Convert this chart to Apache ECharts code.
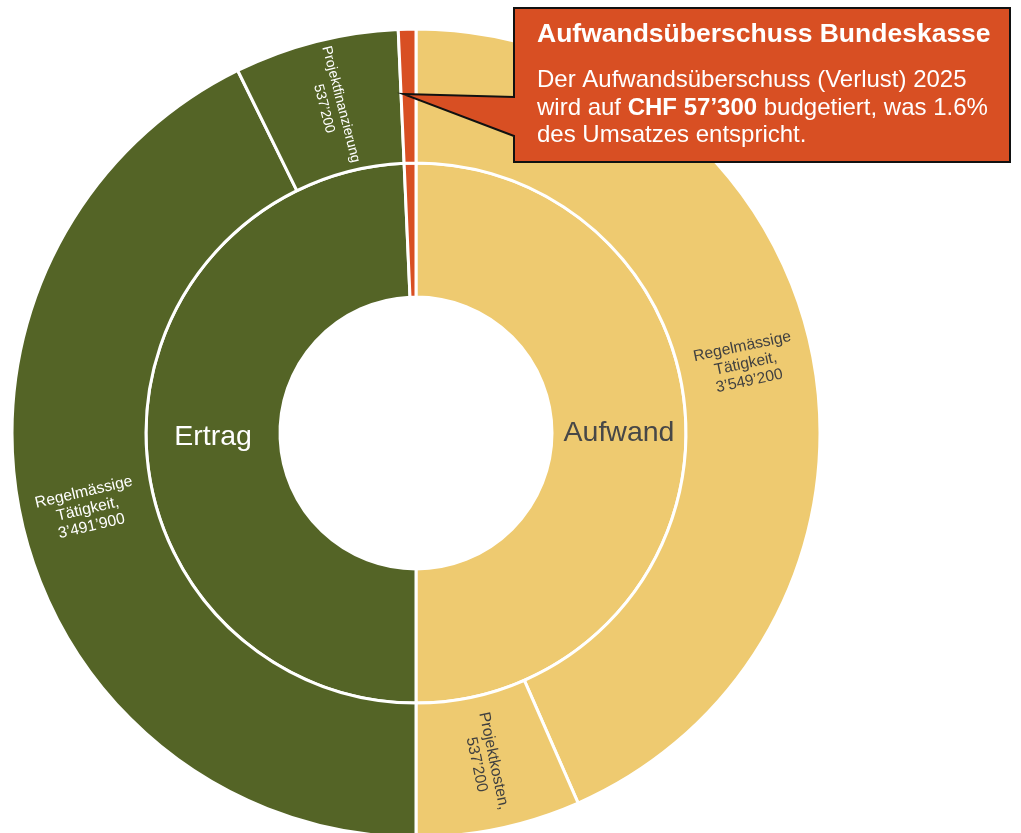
<!DOCTYPE html>
<html>
<head>
<meta charset="utf-8">
<script src="https://cdn.jsdelivr.net/npm/echarts@6/dist/echarts.min.js"></script>
<style>
	html, body { margin: 0; padding: 0; background: #fff; }
	#chart { width: 1021px; height: 833px; }
</style>
</head>
<body>
<div id="chart"></div>
<script>
// data
const groupNames = ["Aufwand", "Ertrag", "Verlust"];
const groupColors = ["#EECA70", "#546426", "#D84F23"];
const groupLabelColors = ["#474747", "#ffffff", "#ffffff"];

const aufwandNames = ["Regelmässige Tätigkeit", "Projektkosten"];
const aufwandValues = [3549200, 537200];
const aufwandLabels = ["Regelmässige\nTätigkeit,\n3’549’200", "Projektkosten,\n537’200"];

const ertragNames = ["Regelmässige Tätigkeit", "Projektfinanzierung"];
const ertragValues = [3491900, 537200];
const ertragLabels = ["Regelmässige\nTätigkeit,\n3’491’900", "Projektfinanzierung\n537’200"];

const verlustValues = [57300];

const FONT = "'Liberation Sans', Arial, sans-serif";

function children(names, values, labels, color, labelColor) {
	return values.map(function (v, i) {
		return {
			name: names[i],
			value: v,
			itemStyle: { color: color },
			label: { show: !!labels, formatter: labels ? labels[i] : "", color: labelColor },
		};
	});
}

const data = [
	{
		name: groupNames[0],
		itemStyle: { color: groupColors[0] },
		label: { color: groupLabelColors[0] },
		children: children(aufwandNames, aufwandValues, aufwandLabels, groupColors[0], "#404040"),
	},
	{
		name: groupNames[1],
		itemStyle: { color: groupColors[1] },
		label: { color: groupLabelColors[1] },
		children: children(ertragNames, ertragValues, ertragLabels, groupColors[1], "#ffffff"),
	},
	{
		name: groupNames[2],
		itemStyle: { color: groupColors[2] },
		label: { show: false },
		children: children([groupNames[2]], verlustValues, null, groupColors[2], "#ffffff"),
	},
];

// the long label is set a bit smaller, like in the original
data[1].children[1].label.fontSize = 14;
data[1].children[1].label.padding = 0;

var myChart = echarts.init(document.getElementById("chart"));

var option = {
	animation: false,
	textStyle: { fontFamily: FONT },
	series: [
		{
			type: "sunburst",
			center: [416, 433],
			sort: null,
			startAngle: 90,
			clockwise: true,
			nodeClick: false,
			itemStyle: { borderColor: "#ffffff", borderWidth: 3 },
			emphasis: { disabled: true },
			levels: [
				{},
				{
					r0: 136,
					r: 270,
					label: { rotate: 0, fontSize: 28.5, fontFamily: FONT, padding: [8, 0, 0, 0] },
				},
				{
					r0: 270,
					r: 404,
					label: { rotate: "radial", fontSize: 15.7, lineHeight: 17.5, fontFamily: FONT, padding: [8, 0, 0, 0] },
				},
			],
			data: data,
		},
	],
	graphic: [
		{
			type: "polygon",
			shape: {
				points: [
					[403, 94], [514, 97], [514, 8], [1010, 8],
					[1010, 162], [514, 162], [514, 136],
				],
			},
			style: { fill: "#D84F23", stroke: "#111111", lineWidth: 2 },
			z: 10,
		},
		{
			type: "text",
			x: 537,
			y: 35,
			style: {
				text: "Aufwandsüberschuss Bundeskasse",
				fill: "#ffffff",
				font: "bold 26.5px " + FONT,
				verticalAlign: "middle",
			},
			z: 11,
		},
		{
			type: "text",
			x: 537,
			y: 67,
			style: {
				text: "Der Aufwandsüberschuss (Verlust) 2025\nwird auf {b|CHF 57’300} budgetiert, was 1.6%\ndes Umsatzes entspricht.",
				fill: "#ffffff",
				fontSize: 24,
				fontFamily: FONT,
				lineHeight: 27.5,
				verticalAlign: "top",
				rich: {
					b: { fontWeight: "bold", fontSize: 24, fontFamily: FONT, fill: "#ffffff", lineHeight: 27.5 },
				},
			},
			z: 11,
		},
	],
};

myChart.setOption(option);
</script>
</body>
</html>
